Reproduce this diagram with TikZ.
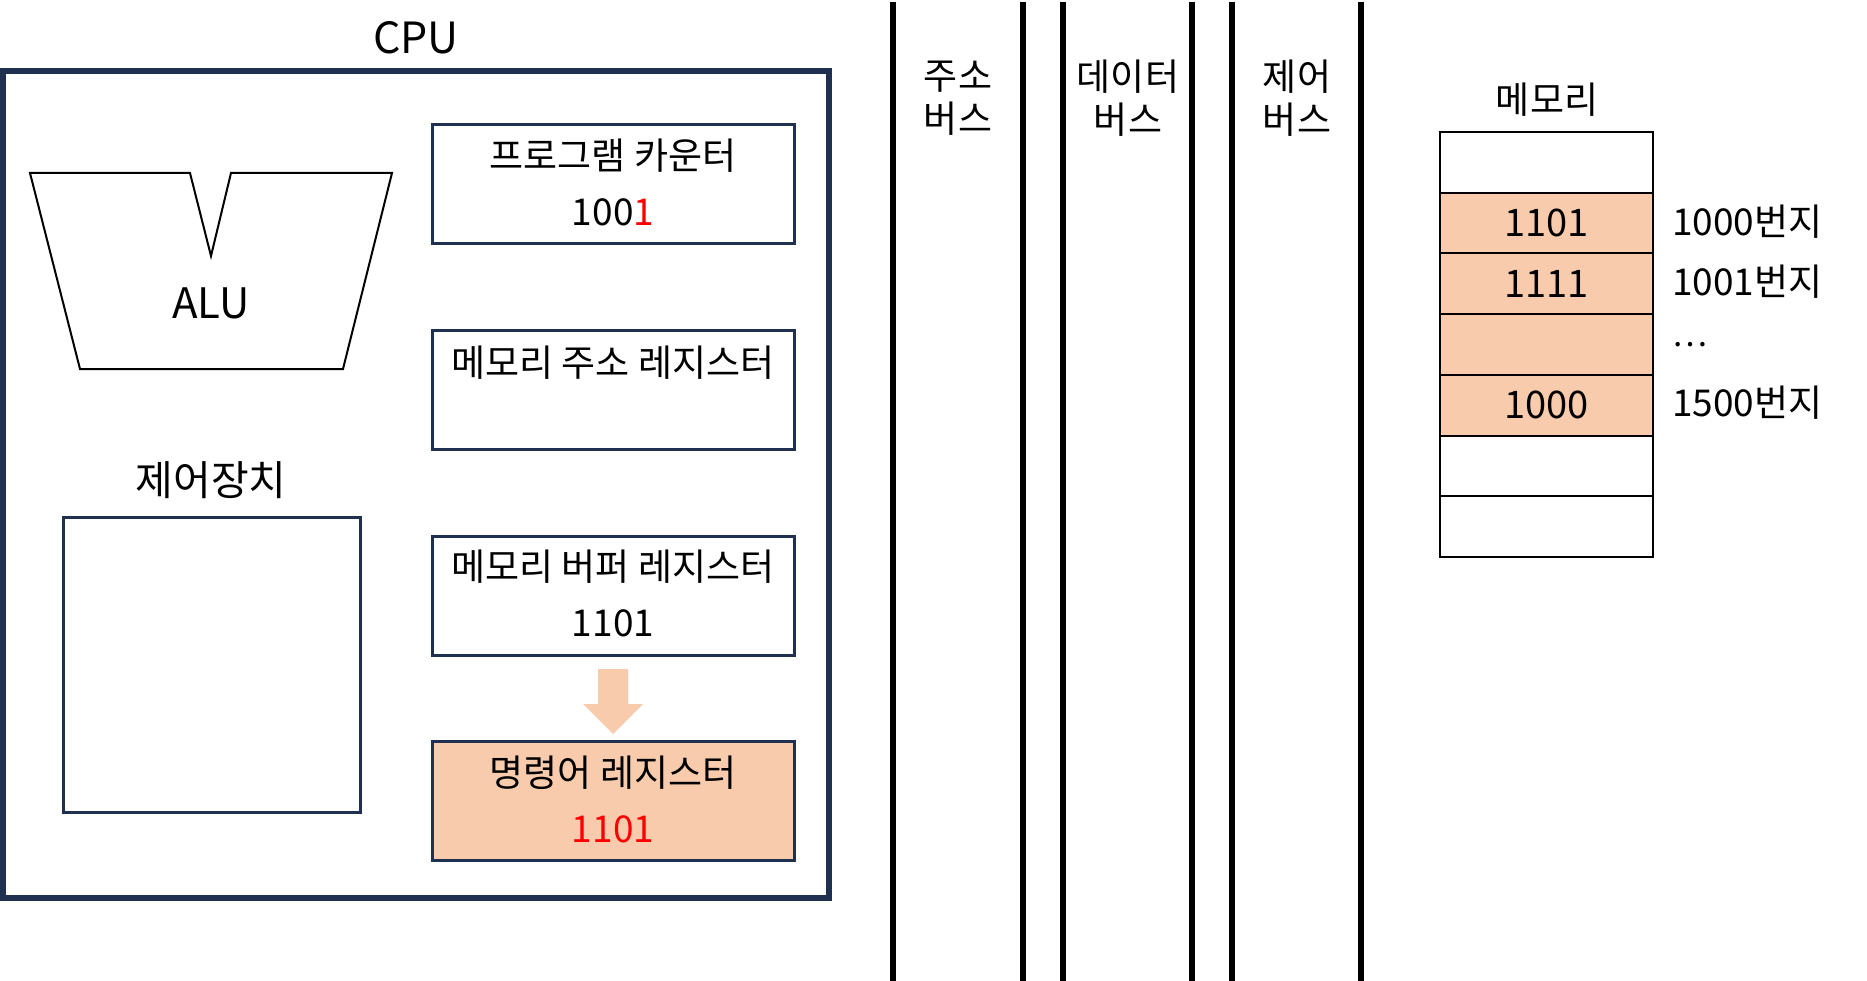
\documentclass[tikz,border=0pt]{standalone}
\usepackage{fontspec}
\setmainfont{Noto Sans CJK KR}
\usetikzlibrary{calc}
\definecolor{navy}{HTML}{1F3050}
\definecolor{peach}{HTML}{F8CBAD}
\definecolor{redv}{HTML}{FF0000}
\begin{document}
\begin{tikzpicture}[x=1pt,y=-1pt,
  reg/.style={draw=navy, line width=3pt, minimum width=362pt, minimum height=119pt, inner sep=0pt, outer sep=0pt},
  lbl/.style={font=\fontsize{37}{43}\selectfont, inner sep=0pt},
  big/.style={font=\fontsize{43}{48}\selectfont, inner sep=0pt},
  num/.style={font=\fontsize{37}{42}\selectfont, inner sep=0pt},
  bus/.style={line width=5.5pt, black},
  cell/.style={draw=black, line width=2pt, minimum width=213pt, minimum height=60.7pt, inner sep=0pt, outer sep=0pt, font=\fontsize{38}{42}\selectfont},
]
\useasboundingbox (0,0) rectangle (1867,981);

% CPU
\node[big] (cpulbl) at (416,38) {CPU};
\node[draw=navy, line width=5.5pt, minimum width=826pt, minimum height=827pt, inner sep=0pt] (cpu) at (416,484.5) {};

% ALU
\draw[black, line width=2pt, line join=miter] (30,173) -- (190,173) -- (211,256) -- (231,173) -- (392,173) -- (343,369) -- (80,369) -- cycle;
\node[big, font=\fontsize{42}{48}\selectfont] (alu) at (211,303) {ALU};

% control unit
\node[lbl, font=\fontsize{41}{46}\selectfont] (ctrllbl) at (211,480) {제어장치};
\node[draw=navy, line width=3pt, minimum width=297pt, minimum height=295pt, inner sep=0pt] (ctrl) at (211.5,664.5) {};

% registers
\node[reg] (pc) at (613,184.5) {};
\node[lbl] (pct) at ($(pc.north)+(0,31)$) {프로그램 카운터};
\node[num] (pcv) at ($(pc.north)+(0,87)$) {100\textcolor{redv}{1}};

\node[reg] (mar) at (613,389.5) {};
\node[lbl] (mart) at ($(mar.north)+(0,33)$) {메모리 주소 레지스터};

\node[reg] (mbr) at (613,595.5) {};
\node[lbl] (mbrt) at ($(mbr.north)+(0,31)$) {메모리 버퍼 레지스터};
\node[num] (mbrv) at ($(mbr.north)+(0,87)$) {1101};

\node[reg, fill=peach] (ir) at (613,800.5) {};
\node[lbl] (irt) at ($(ir.north)+(0,32)$) {명령어 레지스터};
\node[num, text=redv] (irv) at ($(ir.north)+(0,88)$) {1101};

% transfer arrow
\fill[peach] ($(mbr.south)+(-15,14)$) -- ++(30,0) -- ++(0,35) -- ++(15,0)
  -- ($(ir.north)+(0,-7)$) -- ($(mbr.south)+(-30,49)$) -- ++(15,0) -- cycle;

% buses
\foreach \n/\x in {a1/893,a2/1023,d1/1063,d2/1192,c1/1232,c2/1361}{
  \coordinate (\n t) at (\x,2);
  \coordinate (\n b) at (\x,981);
}
\draw[bus] (a1t) -- (a1b);
\draw[bus] (a2t) -- (a2b);
\draw[bus] (d1t) -- (d1b);
\draw[bus] (d2t) -- (d2b);
\draw[bus] (c1t) -- (c1b);
\draw[bus] (c2t) -- (c2b);
\node[lbl, align=center] (abus) at (958,98) {주소\\버스};
\node[lbl, align=center] (dbus) at (1128,98) {데이터\\버스};
\node[lbl, align=center] (cbus) at (1297,98) {제어\\버스};

% memory
\node[lbl] (memlbl) at (1547,100) {메모리};
\node[cell] (m0) at (1546.5,162.35) {};
\node[cell, fill=peach, anchor=north] (m1) at (m0.south) {1101};
\node[cell, fill=peach, anchor=north] (m2) at (m1.south) {1111};
\node[cell, fill=peach, anchor=north] (m3) at (m2.south) {};
\node[cell, fill=peach, anchor=north] (m4) at (m3.south) {1000};
\node[cell, anchor=north] (m5) at (m4.south) {};
\node[cell, anchor=north] (m6) at (m5.south) {};

\node[num, anchor=west] (ad1) at (1672,222) {1000번지};
\node[num, anchor=west] (ad2) at (1672,282) {1001번지};
\node[num, anchor=base west, font=\fontsize{33}{40}\selectfont] (ad3) at (1672,346) {…};
\node[num, anchor=west] (ad4) at (1672,403) {1500번지};
\end{tikzpicture}
\end{document}
